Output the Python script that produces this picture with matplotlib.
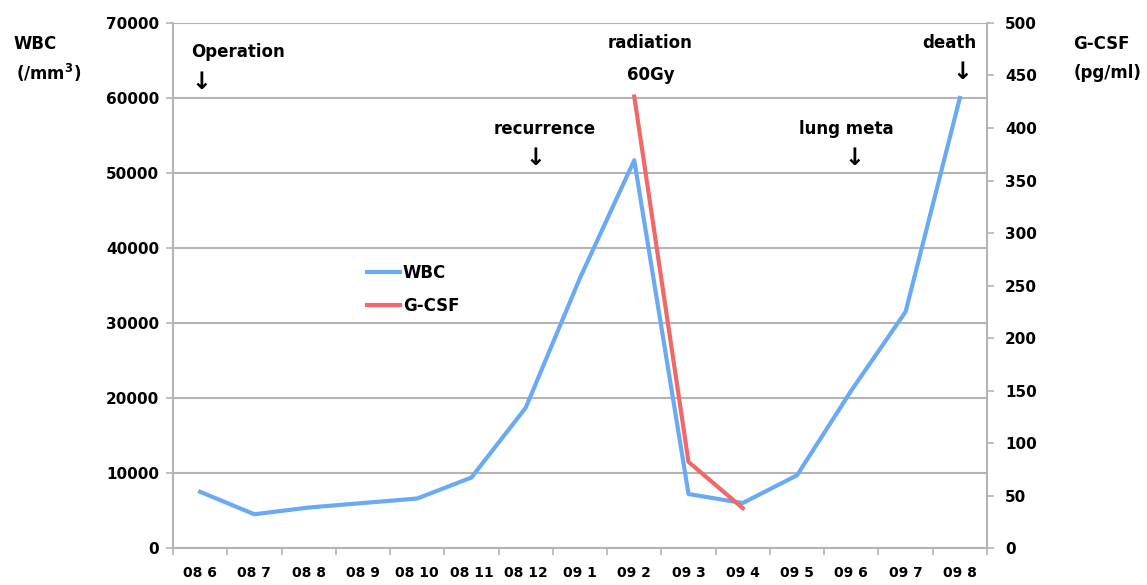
import matplotlib
matplotlib.use("Agg")
import matplotlib.pyplot as plt

plt.rcParams['font.family'] = ['DejaVu Sans']
plt.rcParams['font.weight'] = 'bold'

# categories (year month)
months = ['08 6', '08 7', '08 8', '08 9', '08 10', '08 11', '08 12', '09 1',
          '09 2', '09 3', '09 4', '09 5', '09 6', '09 7', '09 8']

# WBC (/mm3) - no value for 08 9
wbc_months = ['08 6', '08 7', '08 8', '08 10', '08 11', '08 12', '09 1',
              '09 2', '09 3', '09 4', '09 5', '09 6', '09 7', '09 8']
wbc = [7500, 4500, 5400, 6600, 9400, 18700, 36000,
       51700, 7200, 6000, 9700, 21000, 31500, 60000]

# G-CSF (pg/ml)
gcsf_months = ['09 2', '09 3', '09 4']
gcsf = [430, 82, 38]

blue = '#6aaaf5'
red = '#f26868'
grid = '#b4b4b4'

fig = plt.figure(figsize=(11.47, 5.85), dpi=100)
ax = fig.add_axes([0.1508, 0.0632, 0.7097, 0.8975])
ax2 = ax.twinx()

xw = [months.index(m) for m in wbc_months]
xg = [months.index(m) for m in gcsf_months]

ax.plot(xw, wbc, color=blue, lw=3, label='WBC', solid_joinstyle='round')
ax2.plot(xg, gcsf, color=red, lw=3, label='G-CSF', solid_joinstyle='round')

ax.set_xlim(-0.5, len(months) - 0.5)
ax.set_ylim(0, 70000)
ax2.set_ylim(0, 500)
ax.set_yticks(range(0, 70001, 10000))
ax2.set_yticks(range(0, 501, 50))
ax.yaxis.grid(True, color=grid, lw=1.5)
ax.set_axisbelow(True)

ax.set_xticks([i - 0.5 for i in range(len(months) + 1)])
ax.set_xticklabels([])
ax.set_xticks(range(len(months)), minor=True)
ax.set_xticklabels(months, minor=True, fontsize=10, fontweight='bold')
ax.tick_params(axis='x', which='major', length=5, color=grid, width=1.2)
ax.tick_params(axis='x', which='minor', length=0, pad=13)
ax.tick_params(axis='y', length=5, color=grid, width=1.2, labelsize=11, pad=5)
ax2.tick_params(axis='y', length=5, color=grid, width=1.2, labelsize=11, pad=8)

for a in (ax, ax2):
    a.spines['top'].set_visible(False)
    for s in ('left', 'right', 'bottom'):
        a.spines[s].set_color(grid)
        a.spines[s].set_linewidth(1.5)
ax.spines['right'].set_visible(False)
ax2.spines['left'].set_visible(False)
ax2.spines['bottom'].set_visible(False)

# axis titles
fig.text(0.031, 0.925, 'WBC', fontsize=12, fontweight='bold', ha='center', va='center')
fig.text(0.042, 0.875, '(/mm$^{\\mathbf{3}}$)', fontsize=12, fontweight='bold',
         ha='center', va='center')
fig.text(0.960, 0.925, 'G-CSF', fontsize=12, fontweight='bold', ha='center', va='center')
fig.text(0.966, 0.875, '(pg/ml)', fontsize=12, fontweight='bold', ha='center', va='center')

# event annotations (data coords on WBC axis)
txt = dict(fontsize=12, fontweight='bold', ha='center', va='center')
arr = dict(fontsize=17, fontweight='bold', ha='center', va='center')
ax.text(0.7, 66100, 'Operation', **txt)
ax.text(0.03, 62100, '\u2193', **arr)
ax.text(6.35, 55900, 'recurrence', **txt)
ax.text(6.17, 52000, '\u2193', **arr)
ax.text(8.3, 67300, 'radiation', **txt)
ax.text(8.3, 63000, '60Gy', **txt)
ax.text(11.9, 55900, 'lung meta', **txt)
ax.text(12.05, 52000, '\u2193', **arr)
ax.text(13.8, 67300, 'death', **txt)
ax.text(14.05, 63400, '\u2193', **arr)

h1, l1 = ax.get_legend_handles_labels()
h2, l2 = ax2.get_legend_handles_labels()
leg = ax.legend(h1 + h2, l1 + l2, loc='upper left', bbox_to_anchor=(0.22, 0.57),
                frameon=False, handlelength=2.0, handletextpad=0.15, labelspacing=0.9,
                prop={'weight': 'bold', 'size': 12})

fig.savefig('out.png', dpi=100)
